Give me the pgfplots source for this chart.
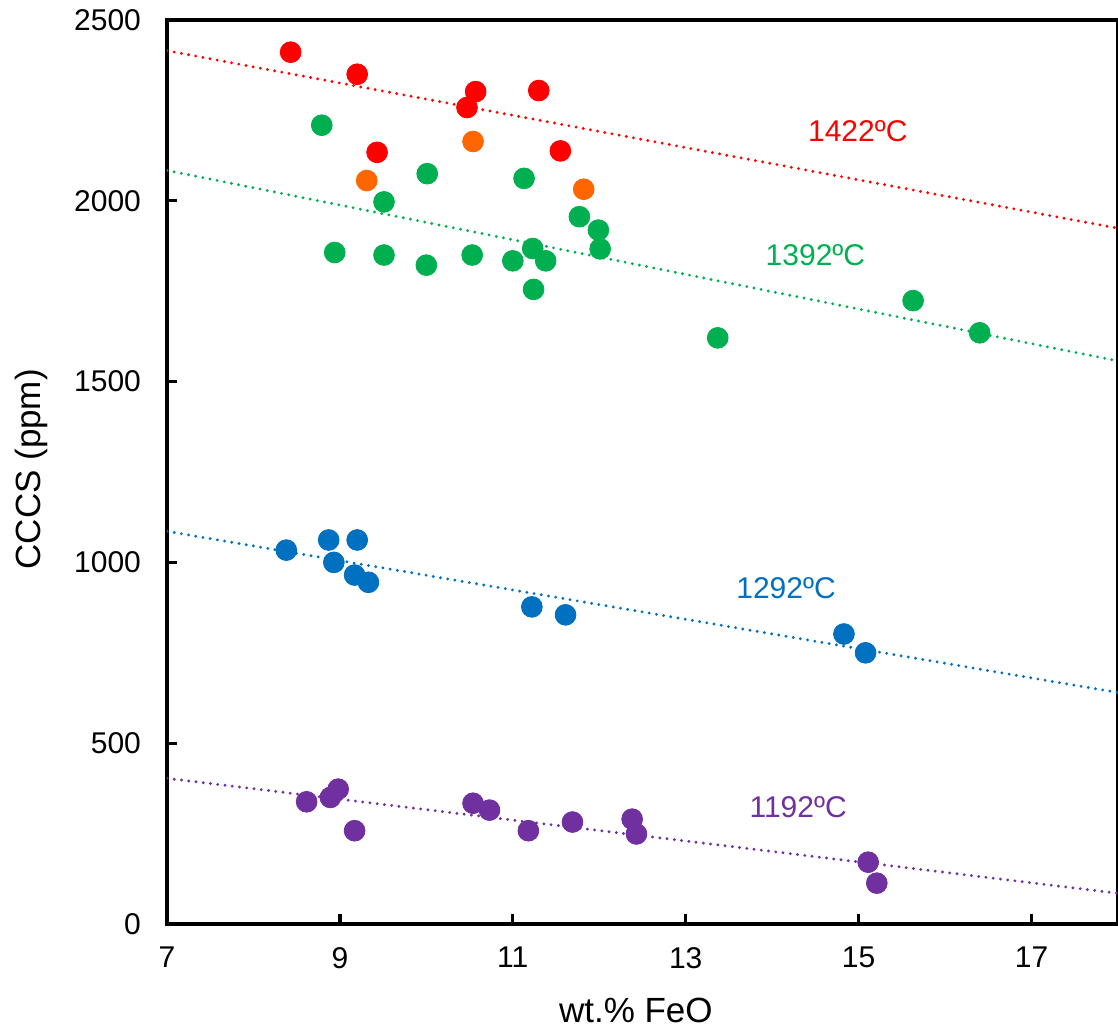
\documentclass[border=0pt]{standalone}
\usepackage{fontspec}
\setmainfont{Liberation Sans}
\usepackage{pgfplots}
\pgfplotsset{compat=1.18}
\definecolor{cred}{RGB}{255,0,0}
\definecolor{corange}{RGB}{255,102,0}
\definecolor{cgreen}{RGB}{0,176,80}
\definecolor{cblue}{RGB}{0,112,192}
\definecolor{cpurple}{RGB}{112,48,160}
\begin{document}
\begin{tikzpicture}
\begin{axis}[
  scale only axis, width=475.5pt, height=452pt,
  xmin=7, xmax=18, ymin=0, ymax=2500,
  xtick={7,9,11,13,15,17}, ytick={0,500,1000,1500,2000,2500},
  tick align=inside, xtick pos=bottom, ytick pos=left,
  major tick length=5pt,
  axis line style={line width=2pt},
  major tick style={black, line width=1.6pt},
  ticklabel style={font=\fontsize{15}{18}\selectfont},
  /pgf/number format/assume math mode=true,
  /pgf/number format/1000 sep={},
  yticklabel style={xshift=-9.5pt},
  xticklabel style={yshift=-8pt},
  xlabel={wt.\% FeO}, ylabel={CCCS (ppm)},
  every axis x label/.style={at={(axis description cs:0.493,-0.0951)}, anchor=center, font=\fontsize{17.5}{20}\selectfont},
  every axis y label/.style={at={(axis description cs:-0.1422,0.503)}, anchor=center, rotate=90, font=\fontsize{17.5}{20}\selectfont},
  trend/.style={line width=1.6pt, dash pattern=on 0pt off 3.65pt, line cap=round},
  dots/.style={only marks, mark=*, mark size=5.2pt},
]
% trend lines
\addplot[cred, trend] coordinates {(7,2415) (18,1924)};
\addplot[cgreen, trend] coordinates {(7,2084) (18,1557)};
\addplot[cblue, trend] coordinates {(7,1086) (18,640)};
\addplot[cpurple, trend] coordinates {(7,403) (18,85)};
% red 1422
\addplot[dots, color=cred] coordinates {
(8.43,2411) (9.20,2350) (10.57,2302) (10.47,2258) (11.30,2305) (9.43,2134) (11.55,2138)};
% orange
\addplot[dots, color=corange] coordinates {
(9.31,2056) (10.54,2164) (11.82,2032)};
% green 1392
\addplot[dots, color=cgreen] coordinates {
(8.79,2209) (8.94,1857) (9.51,1997) (9.51,1850) (10.01,2075) (10.00,1822)
(10.53,1850) (11.13,2062) (11.00,1834) (11.23,1868) (11.38,1834) (11.24,1755)
(11.77,1956) (11.99,1919) (12.01,1867) (13.37,1621) (15.63,1724) (16.40,1635)};
% blue 1292
\addplot[dots, color=cblue] coordinates {
(8.38,1034) (8.87,1062) (9.20,1062) (8.93,1000) (9.17,965) (9.33,945)
(11.22,877) (11.61,855) (14.83,802) (15.08,750)};
% purple 1192
\addplot[dots, color=cpurple] coordinates {
(8.615,338) (8.89,350) (8.98,373) (9.17,258) (10.54,334) (10.73,315)
(11.18,258) (11.69,282) (12.38,290) (12.43,249) (15.11,171) (15.21,113)};
% labels
\node[cred, font=\fontsize{15}{18}\selectfont] at (axis cs:14.99,2193) {1422ºC};
\node[cgreen, font=\fontsize{15}{18}\selectfont] at (axis cs:14.50,1850) {1392ºC};
\node[cblue, font=\fontsize{15}{18}\selectfont] at (axis cs:14.16,929) {1292ºC};
\node[cpurple, font=\fontsize{15}{18}\selectfont] at (axis cs:14.30,324) {1192ºC};
\end{axis}
\pgfresetboundingbox
\useasboundingbox (-83.5pt,-53pt) rectangle (475.5pt,462pt);
\end{tikzpicture}
\end{document}
